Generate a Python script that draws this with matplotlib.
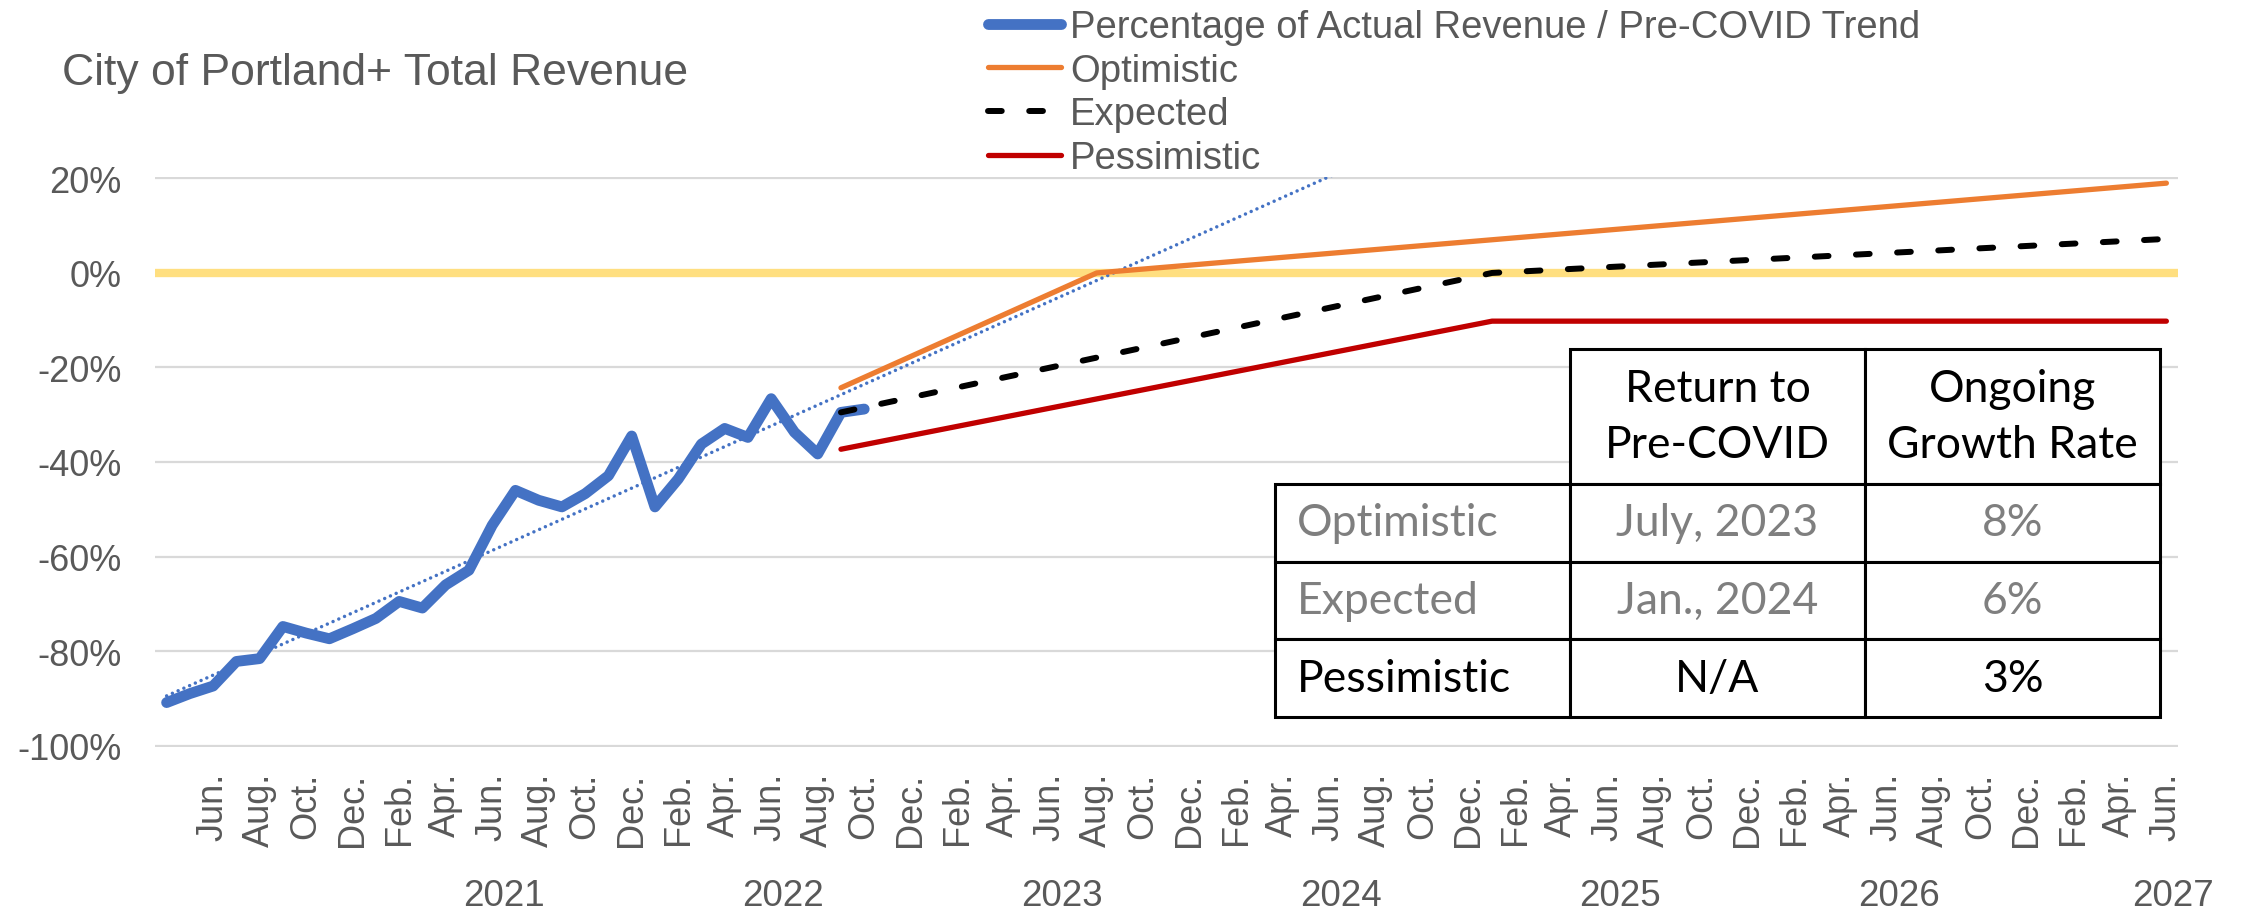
import numpy as np
import pandas as pd
import matplotlib.pyplot as plt
from matplotlib.transforms import blended_transform_factory
from matplotlib.ticker import FuncFormatter
from matplotlib.table import Table

plt.rcParams['font.family'] = ['Liberation Sans', 'DejaVu Sans']

GREY_TXT = '#595959'

# categories: one per month, Apr 2020 .. Jun 2027
months = pd.date_range('2020-04-01', '2027-06-01', freq='MS')
month_lbl = [m.strftime('%b') + '.' for m in months]

# actual revenue vs pre-COVID trend, Apr 2020 .. Oct 2022
actual = [-0.909, -0.890, -0.874, -0.822, -0.816, -0.748, -0.762, -0.774, -0.753, -0.731,
          -0.695, -0.709, -0.660, -0.629, -0.534, -0.460, -0.481, -0.495, -0.467, -0.429,
          -0.345, -0.495, -0.436, -0.362, -0.329, -0.348, -0.266, -0.337, -0.383, -0.295,
          -0.288]

# scenarios (break points)
opt_dates = ['2022-09', '2023-08', '2027-06']
opt_vals = [-0.243, 0.0, 0.190]
exp_dates = ['2022-09', '2025-01', '2027-06']
exp_vals = [-0.295, 0.0, 0.072]
pes_dates = ['2022-09', '2025-01', '2027-06']
pes_vals = [-0.373, -0.102, -0.102]

years = ['2021', '2022', '2023', '2024', '2025', '2026', '2027']
year_pos = [14.5, 26.5, 38.5, 50.5, 62.5, 74.5, 86.3]

# table
row_labels = ['Optimistic', 'Expected', 'Pessimistic']
col_labels = ['Return to\nPre-COVID', 'Ongoing\nGrowth Rate']
return_dates = ['July, 2023', 'Jan., 2024', 'N/A']
growth = ['8%', '6%', '3%']
row_colors = ['#7F7F7F', '#7F7F7F', 'black']


def idx(d):
    t = pd.Timestamp(d)
    return (t.year - months[0].year) * 12 + t.month - months[0].month


def pct(v, pos):
    return f'{int(round(v * 100))}%'


fig = plt.figure(figsize=(22.49, 9.12), dpi=100)
ax = fig.add_axes([155/2249, 1 - 748/912, (2178-155)/2249, 570/912])

x = np.arange(len(actual))
coef = np.polyfit(x, actual, 1)
xt = np.arange(len(months))

ax.axhline(0, color='#FFDF80', lw=6, zorder=2)
l_act, = ax.plot(x, actual, color='#4472C4', lw=7.8, solid_joinstyle='round',
                 solid_capstyle='round', zorder=6, label='Percentage of Actual Revenue / Pre-COVID Trend')
ax.plot(xt, np.polyval(coef, xt), color='#4472C4', lw=2.5, linestyle=(0, (0.01, 1.8)),
        dash_capstyle='round', zorder=4)
l_opt, = ax.plot([idx(d) for d in opt_dates], opt_vals, color='#ED7D31', lw=3.8,
                 solid_capstyle='round', solid_joinstyle='round', zorder=5, label='Optimistic')
l_exp, = ax.plot([idx(d) for d in exp_dates], exp_vals, color='black', lw=4.3,
                 linestyle=(0, (2.3, 4.6)), dash_capstyle='round', zorder=7, label='Expected')
l_pes, = ax.plot([idx(d) for d in pes_dates], pes_vals, color='#C00000', lw=3.8,
                 solid_capstyle='round', solid_joinstyle='round', zorder=5, label='Pessimistic')

ax.set_xlim(-0.5, len(months) - 0.5)
ax.set_ylim(-1.003, 0.203)
ax.set_yticks(np.arange(-1.0, 0.21, 0.2))
ax.yaxis.set_major_formatter(FuncFormatter(pct))
ax.grid(axis='y', color='#D9D9D9', lw=1.6, zorder=0)
ax.set_axisbelow(True)
for s in ax.spines.values():
    s.set_visible(False)

ticks = list(range(2, len(months), 2))
ax.set_xticks(ticks)
ax.set_xticklabels([month_lbl[i] for i in ticks], rotation=90)
ax.tick_params(axis='both', length=0, labelsize=26, labelcolor=GREY_TXT)
ax.tick_params(axis='y', pad=24)
ax.tick_params(axis='x', pad=18)

tr = blended_transform_factory(ax.transData, ax.transAxes)
for y, p in zip(years, year_pos):
    ax.text(p, -0.2614, y, transform=tr, ha='center', va='center', fontsize=26.5, color=GREY_TXT)

fig.text(62/2249, 1 - 85/912, 'City of Portland+ Total Revenue', fontsize=32,
         color=GREY_TXT, va='baseline')

ax.legend(handles=[l_act, l_opt, l_exp, l_pes], loc='upper left',
          bbox_to_anchor=(988/2249, 1 - 10/912), bbox_transform=fig.transFigure,
          frameon=False, fontsize=27.5, labelcolor=GREY_TXT, handlelength=1.9,
          handletextpad=0.25, labelspacing=0.2, borderpad=0, borderaxespad=0)

# summary table (top-left corner left empty)
tbl = Table(ax, bbox=[(1275-155)/2023, 30/570, (2160-1275)/2023, 368/570])
tbl.auto_set_font_size(False)
cells = [(0, 1, col_labels[0], 'center'), (0, 2, col_labels[1], 'center')]
for i, lab in enumerate(row_labels):
    cells += [(i + 1, 0, lab, 'left'), (i + 1, 1, return_dates[i], 'center'),
              (i + 1, 2, growth[i], 'center')]
for r, c, txt, loc in cells:
    cell = tbl.add_cell(r, c, width=1.0, height=1.74 if r == 0 else 1.0, text=txt,
                        loc=loc, facecolor='white', edgecolor='black')
    cell.set_linewidth(2.2)
    t = cell.get_text()
    t.set_fontfamily(['Lato', 'DejaVu Sans'])
    t.set_fontsize(32)
    t.set_linespacing(1.45)
    t.set_color('black' if r == 0 else row_colors[r - 1])
    if loc == 'left':
        cell.PAD = 0.075
tbl.set_zorder(10)
ax.add_table(tbl)

fig.savefig('out.png', dpi=100)
